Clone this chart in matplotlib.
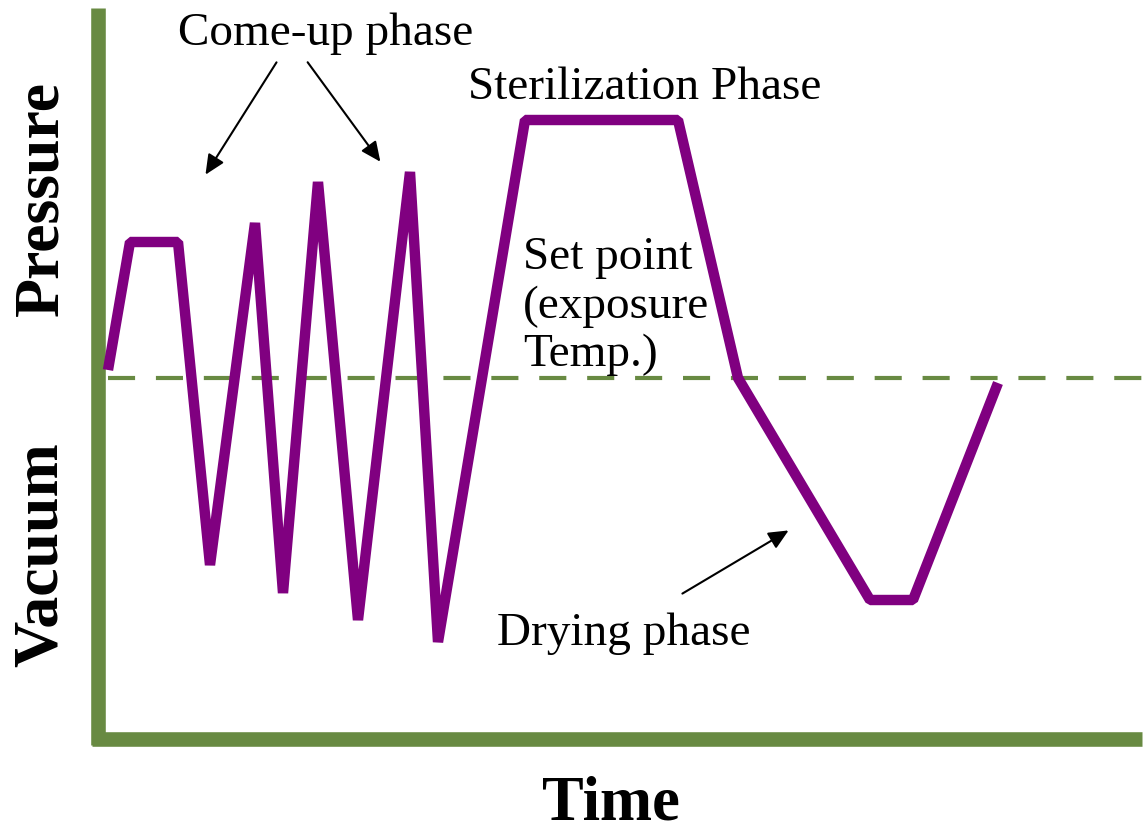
import matplotlib
matplotlib.use('Agg')
import matplotlib.pyplot as plt

# profile vertices (pixel-like units, y grows downward)
t = [108, 130, 178, 210, 255, 283, 318, 358, 410, 438, 525, 678, 738, 870, 913, 998]
p = [370, 242, 242, 565, 223, 593, 182, 620, 172, 642, 120, 120, 378, 600, 600, 383]
set_point = 378
set_point_lines = ['Set point', '(exposure', 'Temp.)']

green = '#688a42'
purple = '#800080'
serif = ['Liberation Serif', 'DejaVu Serif']

fig = plt.figure(figsize=(11.48, 8.32), dpi=100)
ax = fig.add_axes([0, 0, 1, 1])
ax.set_xlim(0, 1148)
ax.set_ylim(832, 0)
ax.axis('off')

# axes drawn as thick green lines
ax.plot([98, 98], [8, 745], color=green, lw=10.5, solid_capstyle='butt')
ax.plot([92, 1142], [739, 739], color=green, lw=10.5, solid_capstyle='butt')

# set point line
ax.plot([108, 1142], [set_point, set_point], color=green, lw=3, dashes=(6.5, 5))

ax.plot(t, p, color=purple, lw=7.5, solid_joinstyle='bevel', solid_capstyle='butt')

ax.text(326, 45, 'Come-up phase', family=serif, fontsize=34, ha='center', va='baseline')
ax.text(645, 99, 'Sterilization Phase', family=serif, fontsize=34, ha='center', va='baseline')
for i, s in enumerate(set_point_lines):
    ax.text(523, 269 + i * 48.5, s, family=serif, fontsize=34, ha='left', va='baseline')
ax.text(497, 645, 'Drying phase', family=serif, fontsize=34, ha='left', va='baseline')
ax.text(42, 198, 'Pressure', family=serif, fontsize=46, fontweight='bold',
        rotation=90, ha='center', va='center')
ax.text(42, 555, 'Vacuum', family=serif, fontsize=46, fontweight='bold',
        rotation=90, ha='center', va='center')
ax.text(611, 819, 'Time', family=serif, fontsize=45, fontweight='bold',
        ha='center', va='baseline')

arrow = dict(arrowstyle='-|>,head_length=1.2,head_width=0.55', color='black', lw=1.5)
ax.annotate('', xy=(204, 177), xytext=(278, 60), arrowprops=arrow)
ax.annotate('', xy=(382, 164), xytext=(306, 60), arrowprops=arrow)
ax.annotate('', xy=(791, 529), xytext=(680, 595), arrowprops=arrow)

fig.savefig('out.png', dpi=100)
